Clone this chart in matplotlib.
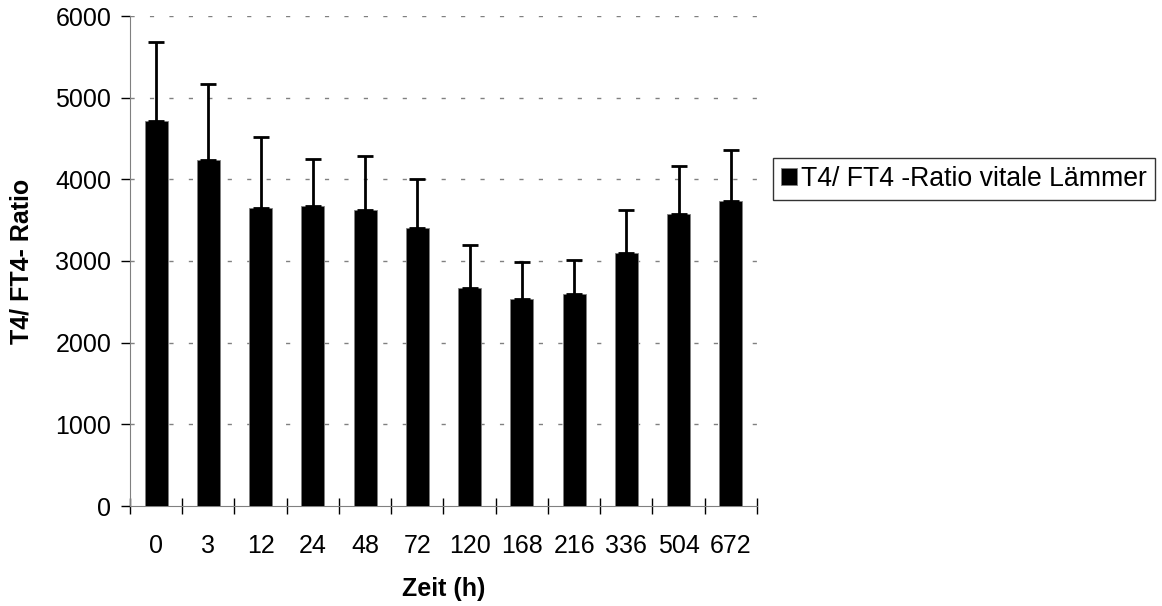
import numpy as np
import matplotlib
matplotlib.use("Agg")
import matplotlib.pyplot as plt

plt.rcParams['font.family'] = ['Liberation Sans', 'DejaVu Sans']

zeit = ["0", "3", "12", "24", "48", "72", "120", "168", "216", "336", "504", "672"]
ratio = [4720, 4240, 3650, 3670, 3620, 3400, 2670, 2540, 2600, 3100, 3580, 3730]
sd = [960, 925, 870, 575, 665, 610, 520, 445, 410, 530, 585, 625]

fig = plt.figure(figsize=(11.62, 6.06), dpi=100)
ax = fig.add_axes([130 / 1162, 100 / 606, 627 / 1162, 490 / 606])

x = np.arange(len(zeit))
ax.bar(x, ratio, width=0.44, color='black', edgecolor='#808080', linewidth=0.6,
       label='T4/ FT4 -Ratio vitale Lämmer', zorder=3)
ax.errorbar(x, ratio, yerr=[np.zeros(len(sd)), sd], fmt='none', ecolor='black',
            elinewidth=2, capsize=6, capthick=2, zorder=4)

ax.set_xlim(-0.5, len(zeit) - 0.5)
ax.set_ylim(0, 6000)
ax.set_yticks(np.arange(0, 6001, 1000))
for yv in range(1000, 6001, 1000):
    ax.axhline(yv, color='#808080', linestyle=(0, (3, 11)), linewidth=1, zorder=1)

ax.set_xticks(x)
ax.set_xticklabels(zeit)
ax.set_xticks(np.arange(-0.5, len(zeit)), minor=True)
ax.tick_params(axis='x', which='major', length=0, labelsize=18, pad=20)
ax.tick_params(axis='x', which='minor', direction='inout', length=12, width=1, color='black')
ax.tick_params(axis='y', direction='out', length=6.5, width=1, labelsize=18, pad=7, color='black')

for s in ['top', 'right']:
    ax.spines[s].set_visible(False)
ax.spines['left'].set_color('#808080')
ax.spines['bottom'].set_color('#808080')

ax.set_xlabel('Zeit (h)', fontsize=18, fontweight='bold', labelpad=14)
ax.set_ylabel('T4/ FT4- Ratio', fontsize=18, fontweight='bold', labelpad=16)

leg = ax.legend(loc='center left', bbox_to_anchor=(1.025, 0.667), frameon=True, fancybox=False,
                fontsize=19.2, handlelength=0.6, handleheight=0.6, handletextpad=0.15,
                borderpad=0.3, borderaxespad=0)
leg.get_frame().set_edgecolor('black')
leg.get_frame().set_linewidth(1)

plt.savefig('out.png', dpi=100)
plt.close()
